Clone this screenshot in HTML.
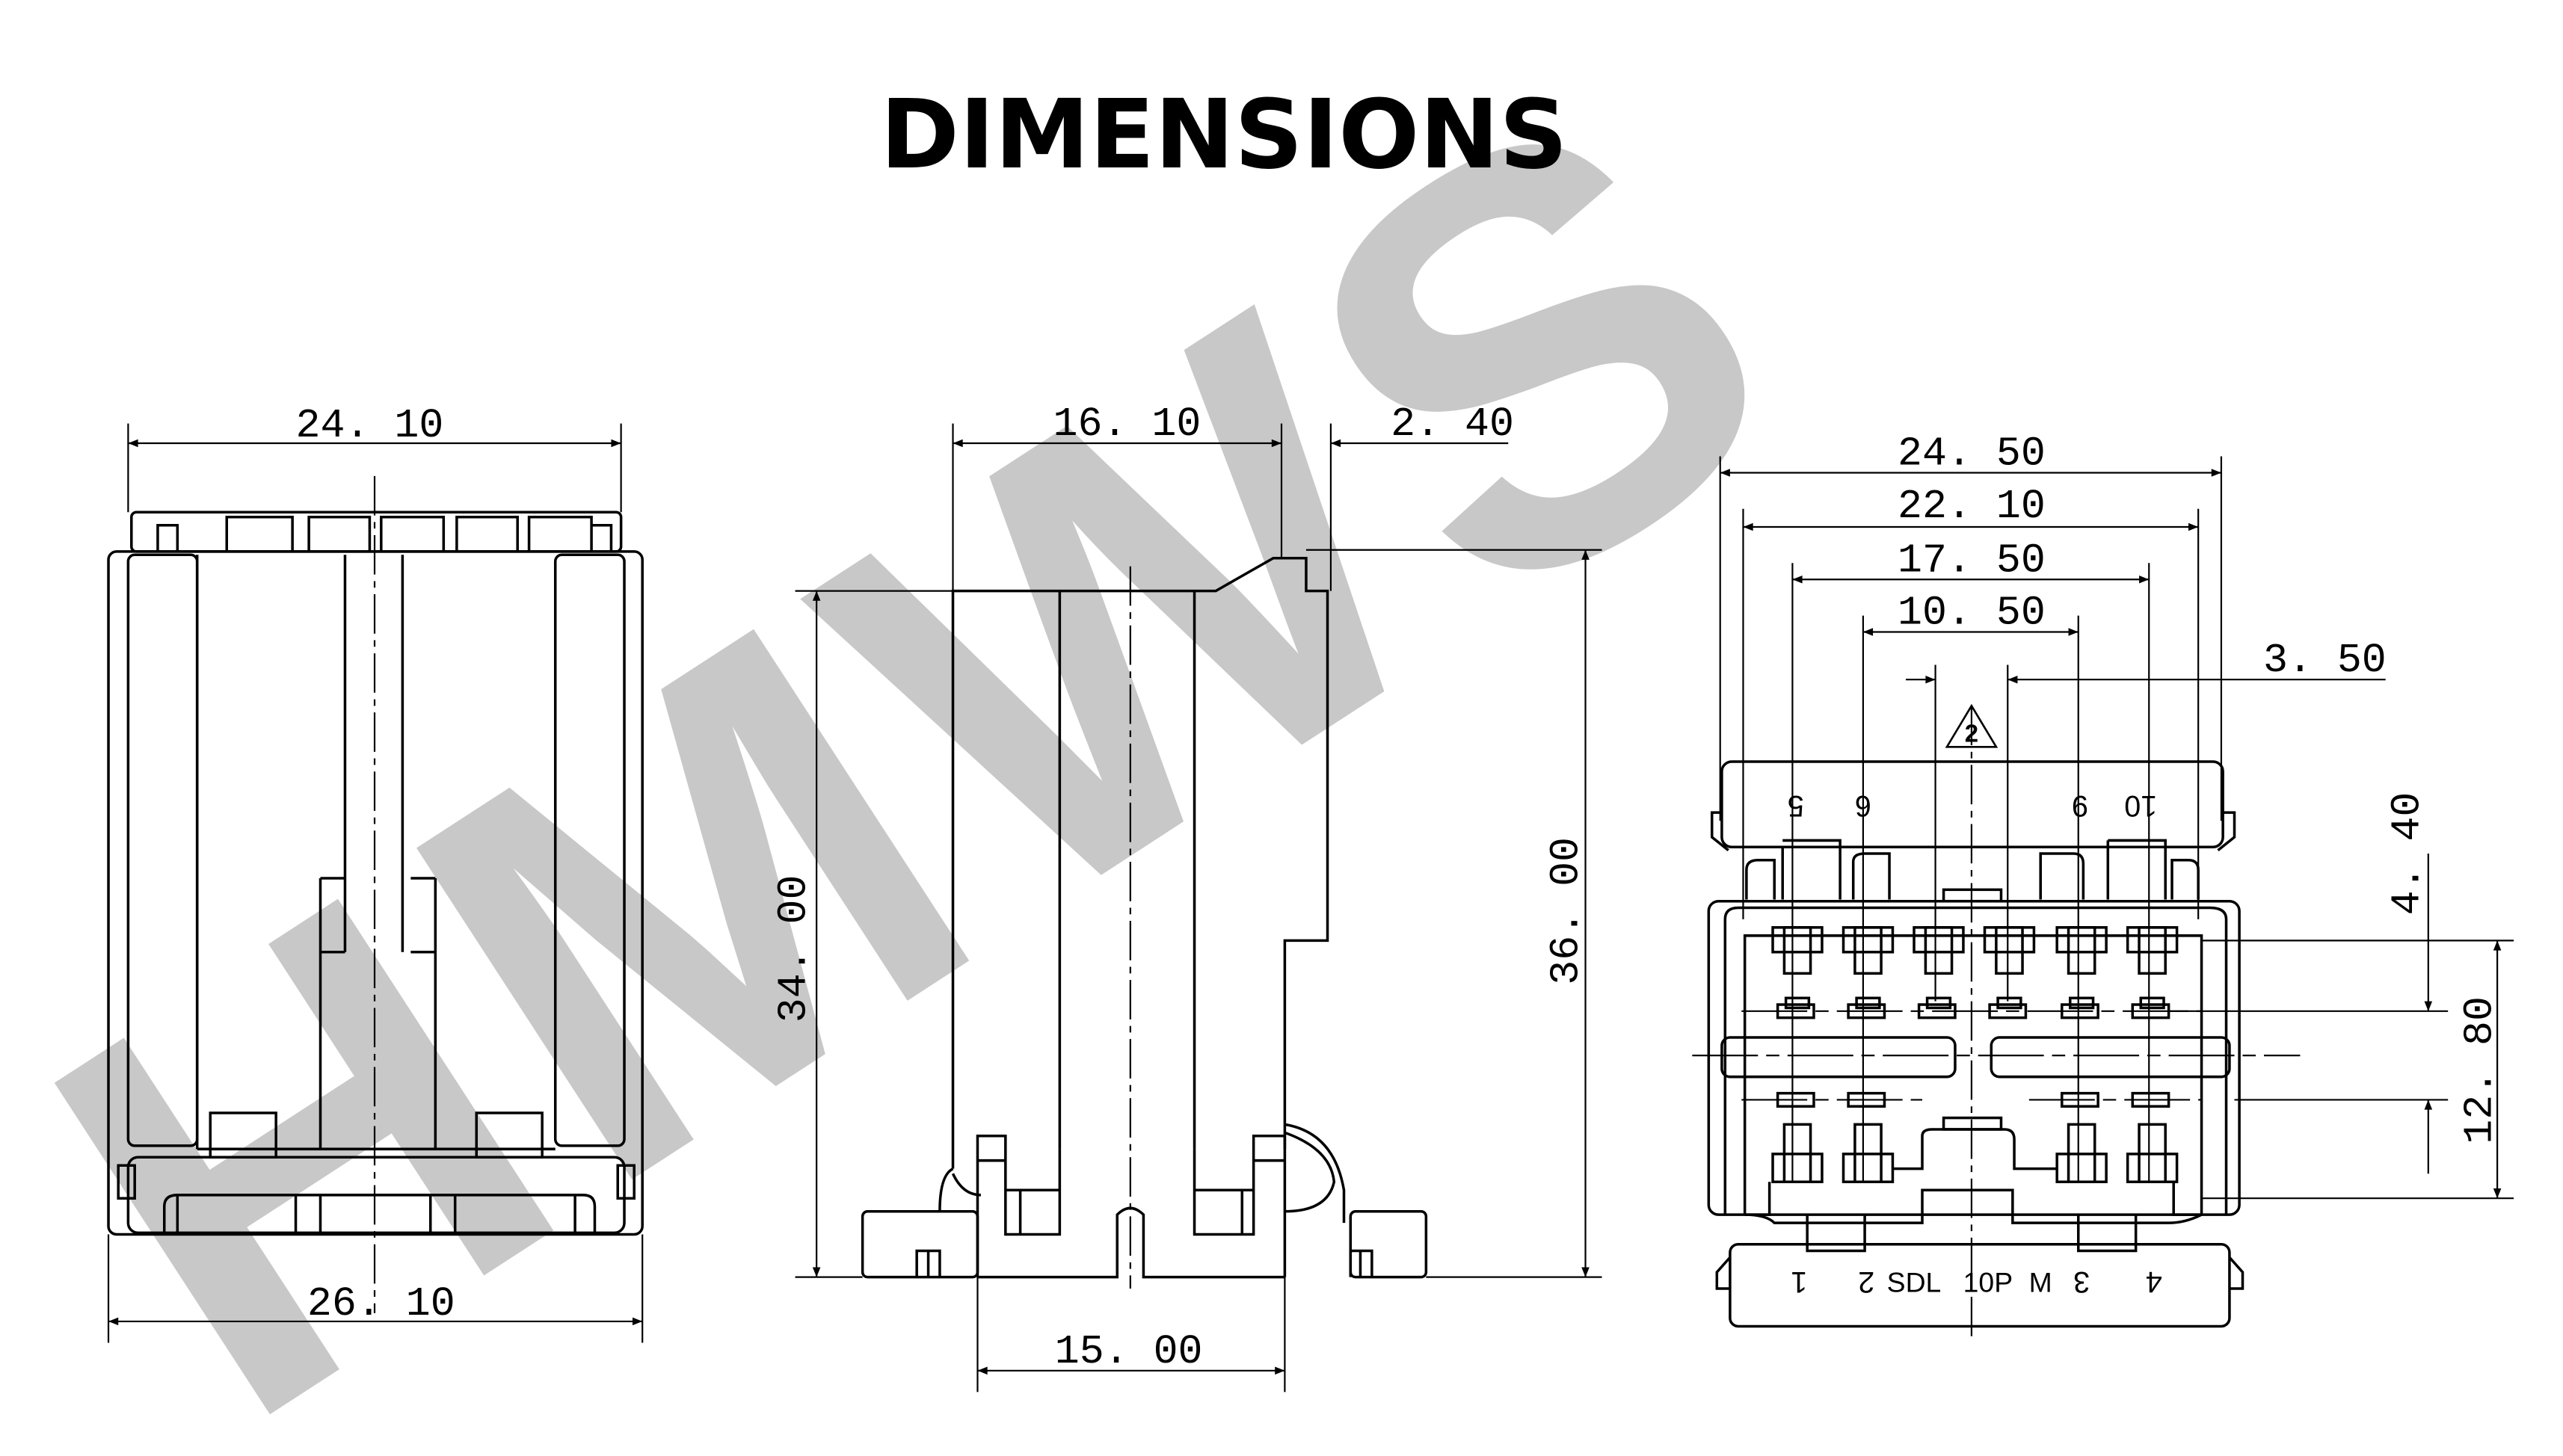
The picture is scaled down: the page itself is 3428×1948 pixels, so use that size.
<!DOCTYPE html>
<html><head><meta charset="utf-8"><style>html,body{margin:0;padding:0;background:#fff;overflow:hidden;width:3428px;height:1948px}svg{display:block}</style></head><body>
<svg width="3428" height="1948" viewBox="0 0 1560 887" preserveAspectRatio="none" xmlns="http://www.w3.org/2000/svg">
<rect width="1560" height="887" fill="#fff"/>
<text x="0" y="0" transform="translate(560,460) rotate(-33)" text-anchor="middle" dominant-baseline="central" font-family="Liberation Sans, sans-serif" font-weight="bold" font-size="350" fill="#c8c8c8" letter-spacing="10">HMWS</text>
<text x="745" y="102" text-anchor="middle" font-family="DejaVu Sans, sans-serif" font-weight="bold" font-size="58" fill="#000">DIMENSIONS</text>
<defs><marker id="a" viewBox="0 0 10 10" refX="10" refY="5" markerWidth="9" markerHeight="6" orient="auto-start-reverse" markerUnits="userSpaceOnUse"><path d="M0,1 L10,5 L0,9 z" fill="#000"/></marker></defs>
<g fill="none" stroke="#000" stroke-width="1.6" font-family="Liberation Mono, monospace">
<line x1="78" y1="258" x2="78" y2="312" stroke-width="1"/><line x1="378" y1="258" x2="378" y2="312" stroke-width="1"/>
<line x1="78" y1="270" x2="378" y2="270" stroke-width="1" marker-start="url(#a)" marker-end="url(#a)"/>
<line x1="66" y1="752" x2="66" y2="818" stroke-width="1"/><line x1="391" y1="752" x2="391" y2="818" stroke-width="1"/>
<line x1="66" y1="805" x2="391" y2="805" stroke-width="1" marker-start="url(#a)" marker-end="url(#a)"/>
<rect x="80" y="312" width="298" height="24" rx="3"/>
<path d="M96,336 V320 H108 V336 M138,336 V315 H178 V336 M188,336 V315 H225 V336 M232,336 V315 H270 V336 M278,336 V315 H315 V336 M322,336 V315 H360 V336 M360,336 V320 H372 V336"/>
<rect x="66" y="336" width="325" height="416" rx="5"/>
<rect x="78" y="338" width="42" height="360" rx="4"/>
<rect x="338" y="338" width="42" height="360" rx="4"/>
<path d="M120,338 V700 M210,338 V580 M245,338 V580 M195,535 V700 M265,535 V700 M195,535 H210 M250,535 H265 M195,580 H210 M250,580 H265"/>
<rect x="128" y="678" width="40" height="27"/><rect x="290" y="678" width="40" height="27"/>
<path d="M120,700 H338"/>
<rect x="78" y="705" width="302" height="46" rx="6"/>
<path d="M100,751 V735 Q100,728 108,728 H355 Q362,728 362,735 V751 M108,728 V751 M350,728 V751 M180,728 V751 M195,728 V751 M262,728 V751 M277,728 V751"/>
<path d="M72,710 H82 V730 H72 Z M376,710 H386 V730 H376 Z"/>
<line x1="228" y1="290" x2="228" y2="800" stroke-width="1" stroke-dasharray="24,4,4,4"/>
<line x1="580" y1="258" x2="580" y2="360" stroke-width="1"/><line x1="780" y1="258" x2="780" y2="340" stroke-width="1"/><line x1="810" y1="258" x2="810" y2="360" stroke-width="1"/>
<line x1="580" y1="270" x2="780" y2="270" stroke-width="1" marker-start="url(#a)" marker-end="url(#a)"/>
<line x1="918" y1="270" x2="810" y2="270" stroke-width="1" marker-end="url(#a)"/>
<line x1="484" y1="360" x2="580" y2="360" stroke-width="1"/><line x1="484" y1="778" x2="525" y2="778" stroke-width="1"/>
<line x1="497" y1="360" x2="497" y2="778" stroke-width="1" marker-start="url(#a)" marker-end="url(#a)"/>
<line x1="795" y1="335" x2="975" y2="335" stroke-width="1"/><line x1="868" y1="778" x2="975" y2="778" stroke-width="1"/>
<line x1="965" y1="335" x2="965" y2="778" stroke-width="1" marker-start="url(#a)" marker-end="url(#a)"/>
<line x1="595" y1="778" x2="595" y2="848" stroke-width="1"/><line x1="782" y1="778" x2="782" y2="848" stroke-width="1"/>
<line x1="595" y1="835" x2="782" y2="835" stroke-width="1" marker-start="url(#a)" marker-end="url(#a)"/>
<path d="M580,712 V360 H740 L775,340 H795 V360 H808 V573 H782 V700"/>
<path d="M645,360 V700 M727,360 V700"/>
<path d="M595,778 V692 H612 V752 H645 V700 M782,778 V692 H763 V752 H727 V700"/>
<path d="M612,725 H645 M621,725 V752 M763,725 H727 M756,725 V752 M595,707 H612 M763,707 H782"/>
<path d="M595,778 H680 V740 Q688,732 696,740 V778 H782"/>
<path d="M580,712 Q572,716 572,738 M580,715 Q586,728 597,728"/>
<path d="M782,685 Q812,690 818,725 V745 M782,690 Q810,700 812,720 Q808,738 782,738"/>
<rect x="525" y="738" width="70" height="40" rx="3"/><rect x="822" y="738" width="46" height="40" rx="3"/>
<path d="M558,778 V762 H572 V778 M565,762 V778 M822,778 V762 H835 V778 M828,762 V778"/>
<line x1="688" y1="345" x2="688" y2="785" stroke-width="1" stroke-dasharray="24,4,4,4"/>
<line x1="1047" y1="278" x2="1047" y2="500" stroke-width="1"/><line x1="1352" y1="278" x2="1352" y2="500" stroke-width="1"/>
<line x1="1047" y1="288" x2="1352" y2="288" stroke-width="1" marker-start="url(#a)" marker-end="url(#a)"/>
<line x1="1061" y1="310" x2="1061" y2="560" stroke-width="1"/><line x1="1338" y1="310" x2="1338" y2="560" stroke-width="1"/>
<line x1="1061" y1="321" x2="1338" y2="321" stroke-width="1" marker-start="url(#a)" marker-end="url(#a)"/>
<line x1="1091" y1="343" x2="1091" y2="720" stroke-width="1"/><line x1="1308" y1="343" x2="1308" y2="720" stroke-width="1"/>
<line x1="1091" y1="353" x2="1308" y2="353" stroke-width="1" marker-start="url(#a)" marker-end="url(#a)"/>
<line x1="1134" y1="375" x2="1134" y2="720" stroke-width="1"/><line x1="1265" y1="375" x2="1265" y2="720" stroke-width="1"/>
<line x1="1134" y1="385" x2="1265" y2="385" stroke-width="1" marker-start="url(#a)" marker-end="url(#a)"/>
<line x1="1178" y1="405" x2="1178" y2="610" stroke-width="1"/><line x1="1222" y1="405" x2="1222" y2="610" stroke-width="1"/>
<line x1="1160" y1="414" x2="1178" y2="414" stroke-width="1" marker-end="url(#a)"/>
<line x1="1452" y1="414" x2="1222" y2="414" stroke-width="1" marker-end="url(#a)"/>
<path d="M1185,455 L1200,430 L1215,455 Z" stroke-width="1.2"/>
<rect x="1048" y="464" width="305" height="52" rx="6"/>
<path d="M1048,495 H1042 V510 L1052,518 M1353,495 H1360 V510 L1350,518"/>
<path d="M1085,516 V548 M1085,512 H1120 V548 M1283,512 H1318 V548 M1283,512 V548"/>
<path d="M1063,548 V530 Q1063,524 1070,524 H1080 V548 M1128,548 V525 Q1128,520 1135,520 H1150 V548 M1242,548 V520 H1262 Q1268,520 1268,526 V548 M1322,548 V524 H1332 Q1338,524 1338,530 V548"/>
<rect x="1183" y="542" width="35" height="7"/>
<rect x="1040" y="549" width="323" height="191" rx="6"/>
<path d="M1050,740 V560 Q1050,553 1058,553 H1345 Q1355,553 1355,560 V740"/>
<path d="M1062,740 V570 H1340 V740"/>
<g id="t">
<rect x="1079" y="565" width="30" height="15"/><rect x="1086" y="565" width="16" height="28"/><rect x="1087" y="608" width="14" height="6"/>
</g>
<use href="#t" x="43"/><use href="#t" x="86"/><use href="#t" x="129"/><use href="#t" x="173"/><use href="#t" x="216"/>
<rect x="1082" y="612" width="22" height="8"/><rect x="1125" y="612" width="22" height="8"/><rect x="1168" y="612" width="22" height="8"/><rect x="1211" y="612" width="22" height="8"/><rect x="1255" y="612" width="22" height="8"/><rect x="1298" y="612" width="22" height="8"/>
<rect x="1048" y="632" width="142" height="24" rx="5"/><rect x="1212" y="632" width="145" height="24" rx="5"/>
<rect x="1082" y="666" width="22" height="8"/><rect x="1125" y="666" width="22" height="8"/><rect x="1255" y="666" width="22" height="8"/><rect x="1298" y="666" width="22" height="8"/>
<g id="b">
<rect x="1079" y="703" width="30" height="17"/><rect x="1086" y="685" width="16" height="35"/>
</g>
<use href="#b" x="43"/><use href="#b" x="173"/><use href="#b" x="216"/>
<path d="M1152,712 H1170 V692 Q1170,688 1176,688 H1220 Q1226,688 1226,694 V712 H1252"/>
<rect x="1183" y="681" width="35" height="7"/>
<path d="M1062,740 H1077 V720 M1340,740 H1323 V720 M1062,740 Q1075,740 1080,745 Q1100,745 1170,745 V725 H1225 V745 H1320 Q1330,745 1340,740"/>
<path d="M1100,740 V762 H1135 V740 M1265,740 V762 H1300 V740"/>
<rect x="1053" y="758" width="304" height="50" rx="5"/>
<path d="M1053,766 L1045,775 V785 H1053 M1357,766 L1365,775 V785 H1357"/>
<line x1="1030" y1="643" x2="1400" y2="643" stroke-width="1" stroke-dasharray="40,5,8,5"/>
<line x1="1060" y1="616" x2="1340" y2="616" stroke-width="1" stroke-dasharray="40,5,8,5"/>
<line x1="1060" y1="670" x2="1170" y2="670" stroke-width="1" stroke-dasharray="40,5,8,5"/>
<line x1="1235" y1="670" x2="1340" y2="670" stroke-width="1" stroke-dasharray="40,5,8,5"/>
<line x1="1200" y1="430" x2="1200" y2="815" stroke-width="1" stroke-dasharray="24,4,4,4"/>
<line x1="1340" y1="573" x2="1530" y2="573" stroke-width="1"/>
<line x1="1320" y1="616" x2="1490" y2="616" stroke-width="1"/>
<line x1="1360" y1="670" x2="1490" y2="670" stroke-width="1"/>
<line x1="1340" y1="730" x2="1530" y2="730" stroke-width="1"/>
<line x1="1478" y1="520" x2="1478" y2="616" stroke-width="1" marker-end="url(#a)"/>
<line x1="1478" y1="715" x2="1478" y2="670" stroke-width="1" marker-end="url(#a)"/>
<line x1="1520" y1="573" x2="1520" y2="730" stroke-width="1" marker-start="url(#a)" marker-end="url(#a)"/>
</g>
<g font-family="Liberation Mono, monospace" font-size="25" fill="#000">
<text x="225" y="266" text-anchor="middle">24. 10</text>
<text x="232" y="801" text-anchor="middle">26. 10</text>
<text x="686" y="265" text-anchor="middle">16. 10</text>
<text x="884" y="265" text-anchor="middle">2. 40</text>
<text x="687" y="830" text-anchor="middle">15. 00</text>
<text transform="translate(490,578) rotate(-90)" text-anchor="middle">34. 00</text>
<text transform="translate(960,555) rotate(-90)" text-anchor="middle">36. 00</text>
<text x="1200" y="283" text-anchor="middle">24. 50</text>
<text x="1200" y="315" text-anchor="middle">22. 10</text>
<text x="1200" y="348" text-anchor="middle">17. 50</text>
<text x="1200" y="380" text-anchor="middle">10. 50</text>
<text x="1415" y="409" text-anchor="middle">3. 50</text>
<text transform="translate(1472,520) rotate(-90)" text-anchor="middle">4. 40</text>
<text transform="translate(1516,652) rotate(-90)" text-anchor="middle">12. 80</text>
</g>
<g font-family="Liberation Sans, sans-serif" font-size="18" fill="#000" text-anchor="middle">
<text x="1200" y="452" font-size="15" font-weight="bold">2</text>
<text transform="translate(1093,485) rotate(180)">5</text>
<text transform="translate(1134,485) rotate(180)">6</text>
<text transform="translate(1266,485) rotate(180)">9</text>
<text transform="translate(1303,485) rotate(180)">10</text>
<text transform="translate(1095,775) rotate(180)">1</text>
<text transform="translate(1136,775) rotate(180)">2</text>
<text x="1165" y="787" font-size="17">SDL</text>
<text x="1210" y="787" font-size="17">10P</text>
<text x="1242" y="787" font-size="17">M</text>
<text transform="translate(1267,775) rotate(180)">3</text>
<text transform="translate(1311,775) rotate(180)">4</text>
</g>
</svg>
</body></html>
